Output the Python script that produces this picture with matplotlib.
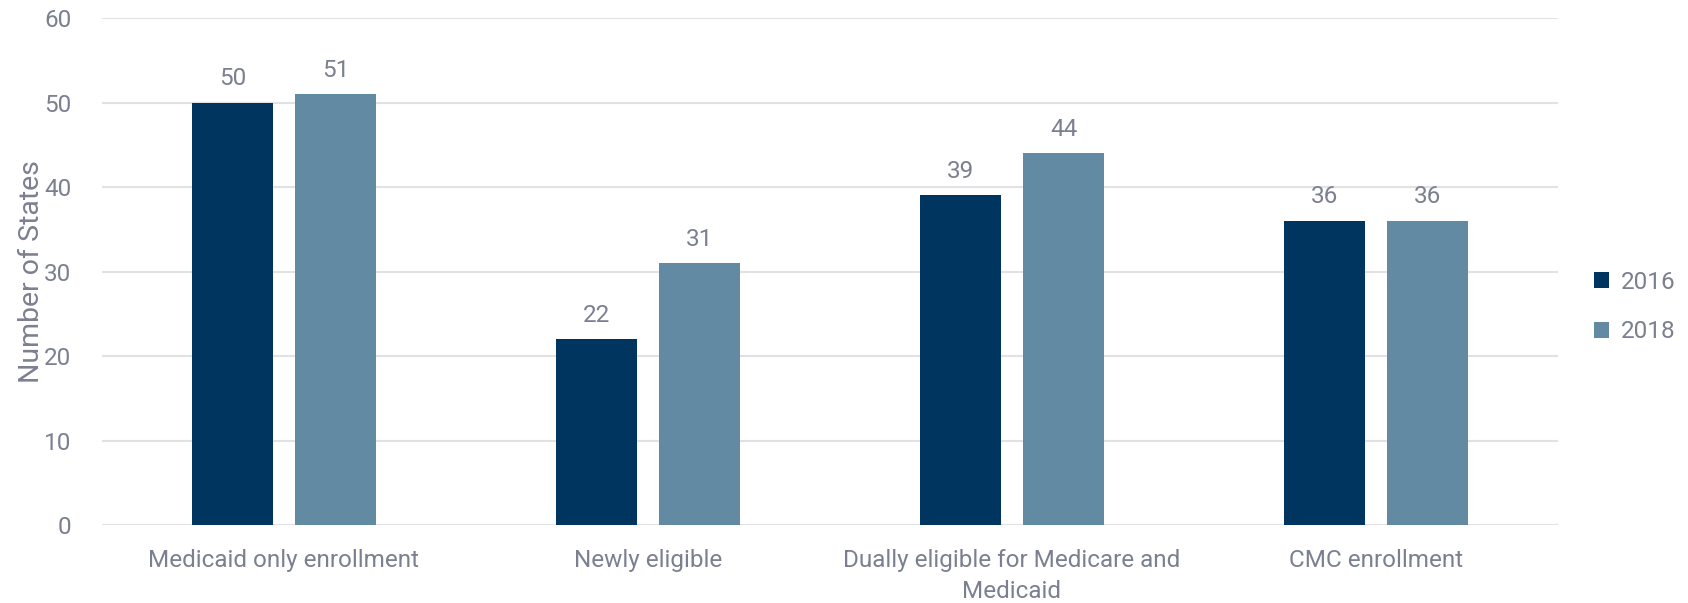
import numpy as np
import matplotlib.pyplot as plt

categories = ['Medicaid only enrollment', 'Newly eligible',
              'Dually eligible for Medicare and\nMedicaid', 'CMC enrollment']
series_names = ['2016', '2018']
values_2016 = [50, 22, 39, 36]
values_2018 = [51, 31, 44, 36]

dark = '#00355f'
light = '#628aa3'
txt = '#7b8091'
grid = '#e1e1e6'

plt.rcParams['font.family'] = ['Roboto', 'DejaVu Sans']
fs = 17.5

fig = plt.figure(figsize=(16.88, 6.03), dpi=100)
ax = fig.add_axes([102 / 1688, 1 - 525 / 603, 1456 / 1688, 507 / 603])

x = np.arange(len(categories))
w = 0.222
off = 0.142
b1 = ax.bar(x - off, values_2016, w, color=dark, label=series_names[0], zorder=3)
b2 = ax.bar(x + off, values_2018, w, color=light, label=series_names[1], zorder=3)

for bars, vals in ((b1, values_2016), (b2, values_2018)):
    for b, v in zip(bars, vals):
        ax.annotate(str(v), (b.get_x() + b.get_width() / 2, v),
                    xytext=(0, 9), textcoords='offset points',
                    ha='center', va='bottom', fontsize=fs, color=txt)

ax.set_xlim(-0.5, 3.5)
ax.set_ylim(0, 60)
ax.set_yticks(range(0, 61, 10))
ax.set_xticks(x)
ax.set_xticklabels(categories, fontsize=fs, color=txt, linespacing=1.45)
ax.tick_params(axis='y', labelsize=fs, labelcolor=txt, length=0, pad=22)
ax.tick_params(axis='x', length=0, pad=17)
ax.grid(axis='y', color=grid, linewidth=1.5, zorder=0)
for s in ax.spines.values():
    s.set_visible(False)
ax.set_ylabel('Number of States', fontsize=20.5, color=txt, labelpad=-1)

leg = ax.legend(loc='center left', bbox_to_anchor=(1.01, 0.43), frameon=False,
                fontsize=fs, handlelength=0.6, handleheight=0.6,
                handletextpad=0.5, labelspacing=1.1, labelcolor=txt)

fig.savefig('out.png', dpi=100)
